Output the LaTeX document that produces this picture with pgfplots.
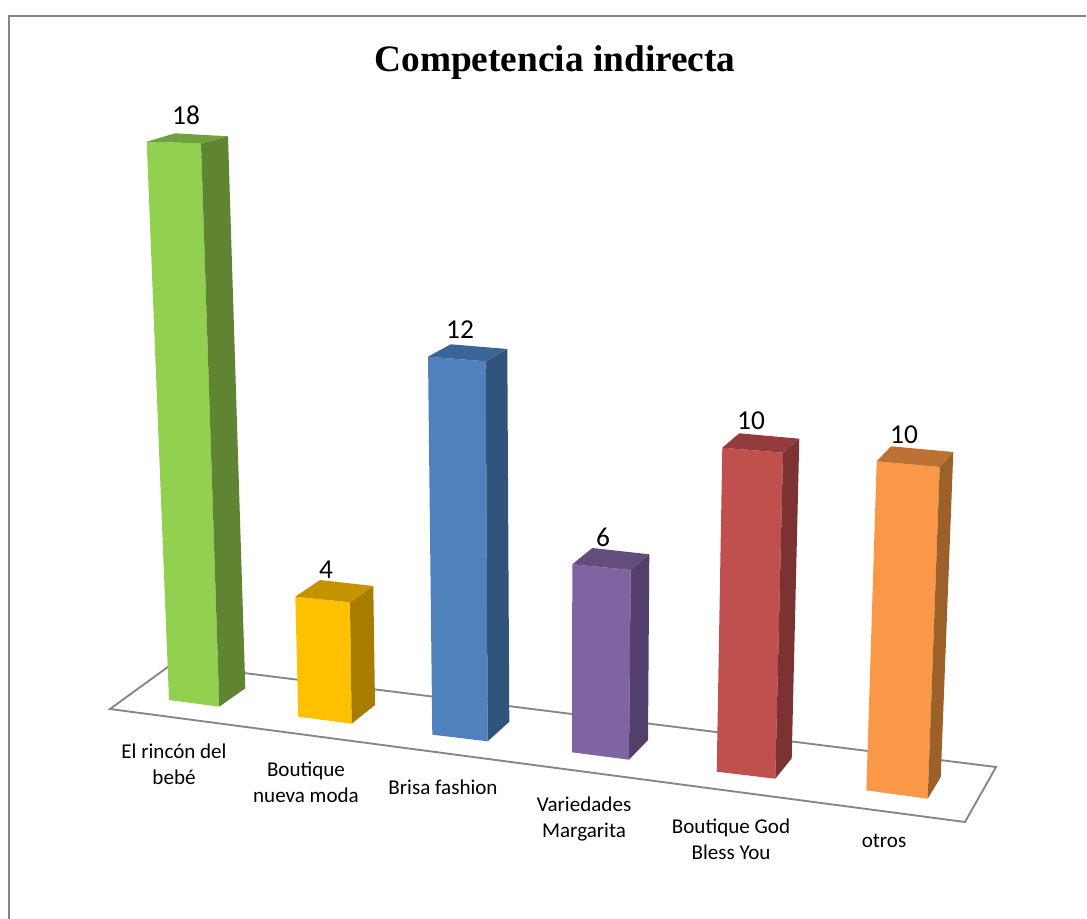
\documentclass[border=0pt]{standalone}
\usepackage{pgfplots}
\pgfplotsset{compat=1.18}
\usepackage{fontspec}
\setmainfont{Carlito}
\newfontfamily\titlefont{Liberation Serif}
\definecolor{fr}{HTML}{868686}
\definecolor{gF}{HTML}{92D050}\definecolor{gT}{HTML}{6FA13E}\definecolor{gS}{HTML}{5F8432}
\definecolor{yF}{HTML}{FFC000}\definecolor{yT}{HTML}{C49400}\definecolor{yS}{HTML}{A67D00}
\definecolor{bF}{HTML}{4F81BD}\definecolor{bT}{HTML}{3B6596}\definecolor{bS}{HTML}{31547C}
\definecolor{pF}{HTML}{8064A2}\definecolor{pT}{HTML}{624D7C}\definecolor{pS}{HTML}{523F6B}
\definecolor{rF}{HTML}{C0504D}\definecolor{rT}{HTML}{933C3B}\definecolor{rS}{HTML}{7D3232}
\definecolor{oF}{HTML}{FB9847}\definecolor{oT}{HTML}{BC7234}\definecolor{oS}{HTML}{9C6029}
\newcommand{\catfont}{\fontsize{15.8pt}{19.5pt}\selectfont}
\newcommand{\valfont}{\fontsize{20.5pt}{22pt}\selectfont}
\begin{document}
\begin{tikzpicture}
\useasboundingbox (0,0) rectangle (815.25pt,689.25pt);
\begin{axis}[
  at={(0,0)}, anchor=south west,
  scale only axis, width=815.25pt, height=689.25pt,
  xmin=0, xmax=1087, ymin=0, ymax=919, y dir=reverse,
  hide axis, clip=true,
]
% frame
\addplot[fr, line width=1.5pt] coordinates {(8.5,919) (8.5,16) (1086,16)};
% floor
\addplot[fr, line width=1.4pt] coordinates {(172,664) (110,709) (965,822) (996,767) (172,664)};
% green, 18
\addplot[draw=none, fill=gF] coordinates {(146.7,141.7) (201,143.3) (219.3,706.7) (169,700)} --cycle;
\addplot[draw=none, fill=gS] coordinates {(201,143.3) (228,136.3) (245.3,688.3) (219.3,706.7)} --cycle;
\addplot[draw=none, fill=gT] coordinates {(146.7,141.7) (175,133.3) (228,136.3) (201,143.3)} --cycle;
% yellow, 4
\addplot[draw=none, fill=yF] coordinates {(295.3,596.7) (350,602.3) (351.7,723.7) (298.3,716.7)} --cycle;
\addplot[draw=none, fill=yS] coordinates {(350,602.3) (373.3,586) (375,705) (351.7,723.7)} --cycle;
\addplot[draw=none, fill=yT] coordinates {(295.3,596.7) (320,580) (373.3,586) (350,602.3)} --cycle;
% blue, 12
\addplot[draw=none, fill=bF] coordinates {(428,356.7) (485.7,361.3) (487.7,741.3) (432.3,734.7)} --cycle;
\addplot[draw=none, fill=bS] coordinates {(485.7,361.3) (507.3,349) (509.3,721.7) (487.7,741.3)} --cycle;
\addplot[draw=none, fill=bT] coordinates {(428,356.7) (450.7,344.3) (507.3,349) (485.7,361.3)} --cycle;
% purple, 6
\addplot[draw=none, fill=pF] coordinates {(572.3,564.3) (630.7,570) (629,759.7) (572,752.3)} --cycle;
\addplot[draw=none, fill=pS] coordinates {(630.7,570) (649.3,554.3) (648,740) (629,759.7)} --cycle;
\addplot[draw=none, fill=pT] coordinates {(572.3,564.3) (592.3,548) (649.3,554.3) (630.7,570)} --cycle;
% red, 10
\addplot[draw=none, fill=rF] coordinates {(722.3,447.7) (783,452.7) (775.3,778.7) (716.7,771.7)} --cycle;
\addplot[draw=none, fill=rS] coordinates {(783,452.7) (799.3,438.7) (791.7,758.3) (775.3,778.7)} --cycle;
\addplot[draw=none, fill=rT] coordinates {(722.3,447.7) (739.3,433.3) (799.3,438.7) (783,452.7)} --cycle;
% orange, 10
\addplot[draw=none, fill=oF] coordinates {(876.7,461.3) (939.7,467) (927.7,798.7) (866.3,790.3)} --cycle;
\addplot[draw=none, fill=oS] coordinates {(939.7,467) (953.3,452) (940.7,777.3) (927.7,798.7)} --cycle;
\addplot[draw=none, fill=oT] coordinates {(876.7,461.3) (891,446.3) (953.3,452) (939.7,467)} --cycle;
% text
\node[font=\titlefont\bfseries\fontsize{28pt}{30pt}\selectfont] at (axis cs:555,63) {Competencia indirecta};
\node[font=\valfont] at (axis cs:186,115) {18};
\node[font=\valfont] at (axis cs:326,570) {4};
\node[font=\valfont] at (axis cs:460,330) {12};
\node[font=\valfont] at (axis cs:603,537) {6};
\node[font=\valfont] at (axis cs:751,421) {10};
\node[font=\valfont] at (axis cs:904,435) {10};
\node[font=\catfont, align=center] at (axis cs:174,764) {El rincón del\\bebé};
\node[font=\catfont, align=center] at (axis cs:306,782) {Boutique\\nueva moda};
\node[font=\catfont] at (axis cs:443,787) {Brisa fashion};
\node[font=\catfont, align=center] at (axis cs:584,819) {Variedades\\Margarita};
\node[font=\catfont, align=center] at (axis cs:731,839) {Boutique God\\Bless You};
\node[font=\catfont] at (axis cs:884,841) {otros};
\end{axis}
\end{tikzpicture}
\end{document}
